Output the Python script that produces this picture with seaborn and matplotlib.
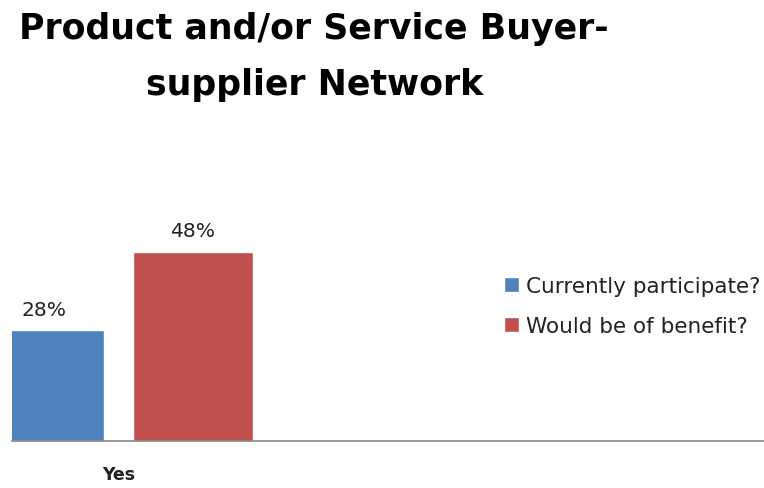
import matplotlib
matplotlib.use("Agg")
import matplotlib.pyplot as plt
import seaborn as sns
import pandas as pd

categories = ["Yes", "Yes"]
series = ["Currently participate?", "Would be of benefit?"]
values = [28, 48]
colors = ["#4F81BD", "#C0504D"]

title_lines = ["Product and/or Service Buyer-", "supplier Network"]

sns.set_theme(style="white")
plt.rcParams["font.family"] = ["DejaVu Sans"]

W, H = 764, 489
fig = plt.figure(figsize=(W / 100, H / 100), dpi=100)
ax = fig.add_axes([12 / W, 1 - 441.7 / H, 1 - 12 / W, (441.7 - 205.3) / H])

df = pd.DataFrame({"category": categories, "series": series, "value": values})
sns.barplot(data=df, x="category", y="value", hue="series", palette=colors,
            width=0.8, gap=0.195, saturation=1, ax=ax, legend=True)

ax.set_xlim(-0.286, 1.733)
ax.set_ylim(0, 60)

for c in ax.containers:
    ax.bar_label(c, labels=[f"{int(v)}%" for v in c.datavalues], padding=8.4,
                 fontsize=14.6, color="#222222")

for s in ["left", "right", "top"]:
    ax.spines[s].set_visible(False)
ax.spines["bottom"].set_color("#868686")
ax.spines["bottom"].set_linewidth(1.2)
ax.set_yticks([])
ax.set_xlabel("")
ax.set_ylabel("")
ax.tick_params(axis="x", length=0, pad=17.5)
for t in ax.get_xticklabels():
    t.set_fontweight("bold")
    t.set_fontsize(12.5)
    t.set_color("#222222")

handles, labels = ax.get_legend_handles_labels()
ax.get_legend().remove()
fig.legend(handles, labels, loc="center left",
           bbox_to_anchor=(504 / W, 1 - 307 / H), frameon=False,
           fontsize=15.5, borderpad=0, borderaxespad=0, handlelength=0.68,
           handleheight=0.7, handletextpad=0.36, labelspacing=0.95,
           labelcolor="#222222")

fig.text(314 / W, 1 - 39 / H, title_lines[0], ha="center", va="baseline",
         fontsize=25, fontweight="bold", color="black")
fig.text(315 / W, 1 - 95 / H, title_lines[1], ha="center", va="baseline",
         fontsize=25, fontweight="bold", color="black")

fig.savefig("out.png", dpi=100)
